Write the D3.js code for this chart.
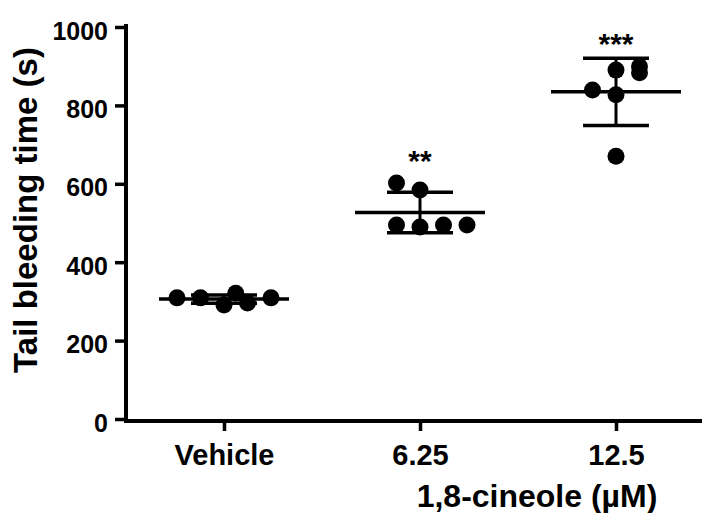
<!DOCTYPE html>
<html lang="en">
<head>
    <meta charset="UTF-8">
    <title>Tail bleeding time</title>
    <script src="https://d3js.org/d3.v7.min.js"></script>
    <style>
        body {
            margin: 0;
            padding: 0;
            background-color: #fff;
        }
        svg text {
            font-family: "Liberation Sans", Arial, sans-serif;
            font-weight: bold;
            fill: #000;
        }
    </style>
</head>
<body>
    <div id="chart"></div>

    <script>
        // values (seconds)
        const groups = ["Vehicle", "6.25", "12.5"];
        const vehicleTimes = [309, 309, 291, 321, 296, 309];
        const dose625Times = [602, 584, 495, 490, 495, 495];
        const dose125Times = [890, 899, 883, 839, 827, 670];
        // column slot of each dot inside its group (scatter spread)
        const vehicleSlots = [-2, -1, 0, 0.5, 1, 2];
        const dose625Slots = [-1, 0, -1, 0, 1, 2];
        const dose125Slots = [0, 1, 1, -1, 0, 0];
        const significance = ["", "**", "***"];
        const yTicks = [0, 200, 400, 600, 800, 1000];

        const width = 702;
        const height = 513;
        const dotR = 8.5;
        const slotStep = 23.5;

        const series = [
            { name: groups[0], values: vehicleTimes, slots: vehicleSlots, sig: significance[0] },
            { name: groups[1], values: dose625Times, slots: dose625Slots, sig: significance[1] },
            { name: groups[2], values: dose125Times, slots: dose125Slots, sig: significance[2] }
        ];

        const svg = d3.select("#chart").append("svg")
            .attr("width", width)
            .attr("height", height);

        const x = d3.scalePoint()
            .domain(groups)
            .range([126, 714])
            .padding(0.5);

        const y = d3.scaleLinear()
            .domain([0, 1000])
            .range([419, 27]);

        const axisY = 421;

        // y axis
        const yAxis = svg.append("g")
            .attr("transform", "translate(126,0)")
            .call(d3.axisLeft(y).tickValues(yTicks).tickFormat(d3.format("d"))
                .tickSize(11).tickSizeOuter(0).tickPadding(7));
        yAxis.select(".domain").remove();
        yAxis.selectAll(".tick line").attr("stroke", "#000").attr("stroke-width", 3.5);
        yAxis.selectAll(".tick text")
            .style("font-size", "25px")
            .attr("dy", "0.48em");
        yAxis.append("line")
            .attr("x1", 0).attr("x2", 0)
            .attr("y1", axisY).attr("y2", y(1000) - 1)
            .attr("stroke", "#000")
            .attr("stroke-width", 4)
            .attr("stroke-linecap", "square");

        // x axis
        const xAxis = svg.append("g")
            .attr("transform", `translate(0,${axisY})`)
            .call(d3.axisBottom(x).tickSize(10).tickSizeOuter(0));
        xAxis.select(".domain").remove();
        xAxis.selectAll(".tick line").attr("stroke", "#000").attr("stroke-width", 3.5);
        xAxis.selectAll(".tick text")
            .style("font-size", "29px")
            .attr("y", 44)
            .attr("dy", 0);
        xAxis.append("line")
            .attr("x1", 124).attr("x2", width)
            .attr("y1", 0).attr("y2", 0)
            .attr("stroke", "#000")
            .attr("stroke-width", 4);

        // axis titles
        svg.append("text")
            .attr("transform", "translate(37,210) rotate(-90)")
            .attr("text-anchor", "middle")
            .style("font-size", "33px")
            .text("Tail bleeding time (s)");

        svg.append("text")
            .attr("x", 537)
            .attr("y", 507)
            .attr("text-anchor", "middle")
            .style("font-size", "32px")
            .text("1,8-cineole (µM)");

        // groups: mean line, SD bars, dots, stars
        series.forEach(s => {
            const cx = x(s.name);
            const mean = d3.mean(s.values);
            const sd = d3.deviation(s.values);
            const g = svg.append("g");

            g.append("line")
                .attr("x1", cx - 65).attr("x2", cx + 65)
                .attr("y1", y(mean)).attr("y2", y(mean))
                .attr("stroke", "#000").attr("stroke-width", 3.5);

            g.append("line")
                .attr("x1", cx).attr("x2", cx)
                .attr("y1", y(mean + sd)).attr("y2", y(mean - sd))
                .attr("stroke", "#000").attr("stroke-width", 3);

            [mean + sd, mean - sd].forEach(v => {
                g.append("line")
                    .attr("x1", cx - 33).attr("x2", cx + 33)
                    .attr("y1", y(v)).attr("y2", y(v))
                    .attr("stroke", "#000").attr("stroke-width", 3.5);
            });

            g.selectAll("circle")
                .data(s.values)
                .join("circle")
                .attr("cx", (d, i) => cx + s.slots[i] * slotStep)
                .attr("cy", d => y(d))
                .attr("r", dotR)
                .attr("fill", "#000");

            if (s.sig) {
                const top = Math.min(y(mean + sd), y(d3.max(s.values)) - dotR);
                g.append("text")
                    .attr("x", cx)
                    .attr("y", top - 4)
                    .attr("text-anchor", "middle")
                    .style("font-size", "30px")
                    .text(s.sig);
            }
        });
    </script>
</body>
</html>
